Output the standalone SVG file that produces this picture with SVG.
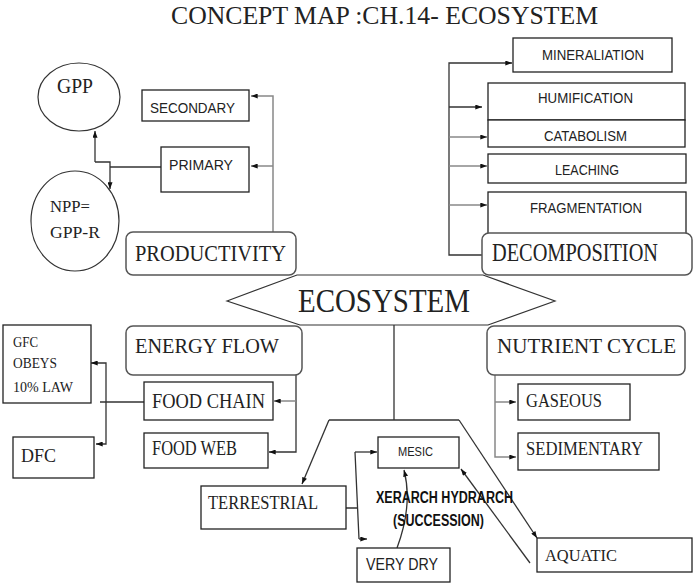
<svg xmlns="http://www.w3.org/2000/svg" width="697" height="585" viewBox="0 0 697 585">
<defs>
<marker id="ah" viewBox="0 0 8 6" refX="8" refY="3" markerWidth="7" markerHeight="5" markerUnits="userSpaceOnUse" orient="auto">
<path d="M0,0 L8,3 L0,6 z" fill="#111"/>
</marker>
<style>
.bx{fill:#fff;stroke:#222;stroke-width:1.3}
.rb{fill:#fff;stroke:#555;stroke-width:1.5}
.el{fill:#fff;stroke:#333;stroke-width:1.2}
.ln{fill:none;stroke:#333;stroke-width:1.3}
.lg{fill:none;stroke:#888;stroke-width:1.5}
.ar{marker-end:url(#ah)}
.sf{font-family:"Liberation Serif","Times New Roman",serif;fill:#222}
.ss{font-family:"Liberation Sans",Arial,sans-serif;fill:#222}
.sb{font-family:"Liberation Sans",Arial,sans-serif;font-weight:bold;fill:#111}
</style>
</defs>
<rect width="697" height="585" fill="#fff"/>
<text class="sf" x="171" y="24" font-size="25" textLength="427" lengthAdjust="spacingAndGlyphs">CONCEPT MAP :CH.14- ECOSYSTEM</text>

<g id="connectors">
<path class="lg ar" d="M273,232 V96 H251"/>
<path class="lg ar" d="M273,166 H251"/>
<path class="ln" d="M161,167 H110"/>
<path class="ln ar" d="M95,162 H110 V189"/>
<path class="ln ar" d="M95,162 V131"/>
<path class="ln ar" d="M482,255 H449 V63 H512"/>
<path class="ln ar" d="M449,107 H482"/>
<path class="lg ar" d="M449,137 H487"/>
<path class="lg ar" d="M449,166 H487"/>
<path class="lg ar" d="M449,205 H487"/>
<path class="ln ar" d="M296,375 V452 H269"/>
<path class="lg ar" d="M296,401 H274"/>
<path class="ln" d="M144,402 H100"/>
<path class="ln ar" d="M106,402 V363 H91"/>
<path class="ln ar" d="M106,402 V444 H96"/>
<path class="ln" d="M394,325 V420 M329,420 H459"/>
<path class="ln ar" d="M329,420 L302,484"/>
<path class="ln ar" d="M459,420 L537,538"/>
<path class="ln" d="M346,508 H357 M355,452 L359,539"/>
<path class="ln ar" d="M355,452 H377"/>
<path class="ln ar" d="M359,539 H367"/>
<path class="ln ar" d="M397,548 Q413,505 404,470"/>
<path class="ln ar" d="M530,563 L461,469"/>
<path class="lg ar" d="M495,375 V457 H516"/>
<path class="lg ar" d="M495,402 H516"/>
</g>

<g id="gpp"><ellipse class="el" cx="79" cy="97" rx="41" ry="34"/><text class="sf" x="57" y="93" font-size="21" textLength="36" lengthAdjust="spacingAndGlyphs">GPP</text></g>
<g id="npp"><ellipse class="el" cx="75" cy="221" rx="44" ry="50"/><text class="sf" x="50" y="212" font-size="17" textLength="40" lengthAdjust="spacingAndGlyphs">NPP=</text><text class="sf" x="50" y="238" font-size="17" textLength="50" lengthAdjust="spacingAndGlyphs">GPP-R</text></g>
<g id="secondary"><rect class="bx" x="142" y="90" width="107" height="31"/><text class="ss" x="150" y="113" font-size="14" textLength="85" lengthAdjust="spacingAndGlyphs">SECONDARY</text></g>
<g id="primary"><rect class="bx" x="161" y="147" width="88" height="45"/><text class="ss" x="169" y="170" font-size="14" textLength="64" lengthAdjust="spacingAndGlyphs">PRIMARY</text></g>
<g id="productivity"><rect class="rb" x="126" y="232" width="170" height="43" rx="7"/><text class="sf" x="135" y="261" font-size="24" textLength="151" lengthAdjust="spacingAndGlyphs">PRODUCTIVITY</text></g>

<g id="mineraliation"><rect class="bx" x="513" y="38" width="159" height="34"/><text class="ss" x="542" y="60" font-size="14" textLength="102" lengthAdjust="spacingAndGlyphs">MINERALIATION</text></g>
<g id="humification"><rect class="bx" x="488" y="83" width="197" height="37"/><text class="ss" x="538" y="103" font-size="14" textLength="95" lengthAdjust="spacingAndGlyphs">HUMIFICATION</text></g>
<g id="catabolism"><rect class="bx" x="488" y="120" width="197" height="27"/><text class="ss" x="544" y="141" font-size="14" textLength="83" lengthAdjust="spacingAndGlyphs">CATABOLISM</text></g>
<g id="leaching"><rect class="bx" x="488" y="154" width="198" height="29"/><text class="ss" x="555" y="175" font-size="14" textLength="64" lengthAdjust="spacingAndGlyphs">LEACHING</text></g>
<g id="fragmentation"><rect class="bx" x="488" y="192" width="198" height="45"/><text class="ss" x="530" y="213" font-size="14" textLength="112" lengthAdjust="spacingAndGlyphs">FRAGMENTATION</text></g>
<g id="decomposition"><rect class="rb" x="482" y="233" width="210" height="42" rx="7"/><text class="sf" x="492" y="261" font-size="25" textLength="166" lengthAdjust="spacingAndGlyphs">DECOMPOSITION</text></g>

<g id="ecosystem"><polygon fill="#fff" stroke="#333" stroke-width="1.2" points="227,301 297,275 483,275 555,301 488,325 300,325"/><text class="sf" x="298" y="312" font-size="34" textLength="172" lengthAdjust="spacingAndGlyphs">ECOSYSTEM</text></g>

<g id="energy-flow"><rect class="rb" x="126" y="326" width="176" height="49" rx="7"/><text class="sf" x="135" y="353" font-size="22" textLength="144" lengthAdjust="spacingAndGlyphs">ENERGY FLOW</text></g>
<g id="nutrient-cycle"><rect class="rb" x="487" y="326" width="198" height="49" rx="7"/><text class="sf" x="497" y="353" font-size="22" textLength="179" lengthAdjust="spacingAndGlyphs">NUTRIENT CYCLE</text></g>

<g id="gfc"><rect class="bx" x="3" y="325" width="88" height="78"/><text class="sf" x="13" y="347" font-size="14" textLength="25" lengthAdjust="spacingAndGlyphs">GFC</text><text class="sf" x="13" y="368" font-size="14" textLength="44" lengthAdjust="spacingAndGlyphs">OBEYS</text><text class="sf" x="13" y="392" font-size="14" textLength="60" lengthAdjust="spacingAndGlyphs">10% LAW</text></g>
<g id="dfc"><rect class="bx" x="13" y="437" width="81" height="41"/><text class="sf" x="21" y="462" font-size="19" textLength="35" lengthAdjust="spacingAndGlyphs">DFC</text></g>
<g id="food-chain"><rect class="bx" x="144" y="382" width="129" height="38"/><text class="sf" x="152" y="408" font-size="20" textLength="113" lengthAdjust="spacingAndGlyphs">FOOD CHAIN</text></g>
<g id="food-web"><rect class="bx" x="144" y="433" width="124" height="35"/><text class="sf" x="152" y="455" font-size="20" textLength="85" lengthAdjust="spacingAndGlyphs">FOOD WEB</text></g>

<g id="gaseous"><rect class="bx" x="518" y="384" width="112" height="36"/><text class="sf" x="526" y="407" font-size="18" textLength="76" lengthAdjust="spacingAndGlyphs">GASEOUS</text></g>
<g id="sedimentary"><rect class="bx" x="518" y="433" width="141" height="37"/><text class="sf" x="526" y="455" font-size="18" textLength="117" lengthAdjust="spacingAndGlyphs">SEDIMENTARY</text></g>

<g id="terrestrial"><rect class="bx" x="201" y="486" width="145" height="43"/><text class="sf" x="208" y="509" font-size="19" textLength="110" lengthAdjust="spacingAndGlyphs">TERRESTRIAL</text></g>
<g id="mesic"><rect class="bx" x="378" y="437" width="81" height="31"/><text class="ss" x="398" y="456" font-size="12" textLength="35" lengthAdjust="spacingAndGlyphs">MESIC</text></g>
<g id="very-dry"><rect class="bx" x="357" y="548" width="93" height="34"/><text class="ss" x="366" y="570" font-size="17" textLength="72" lengthAdjust="spacingAndGlyphs">VERY DRY</text></g>
<g id="aquatic"><rect class="bx" x="537" y="538" width="155" height="34"/><text class="sf" x="545" y="561" font-size="17" textLength="72" lengthAdjust="spacingAndGlyphs">AQUATIC</text></g>
<g id="succession-label"><text class="sb" x="376" y="503" font-size="16" textLength="137" lengthAdjust="spacingAndGlyphs">XERARCH HYDRARCH</text><text class="sb" x="393" y="526" font-size="16" textLength="91" lengthAdjust="spacingAndGlyphs">(SUCCESSION)</text></g>
</svg>
